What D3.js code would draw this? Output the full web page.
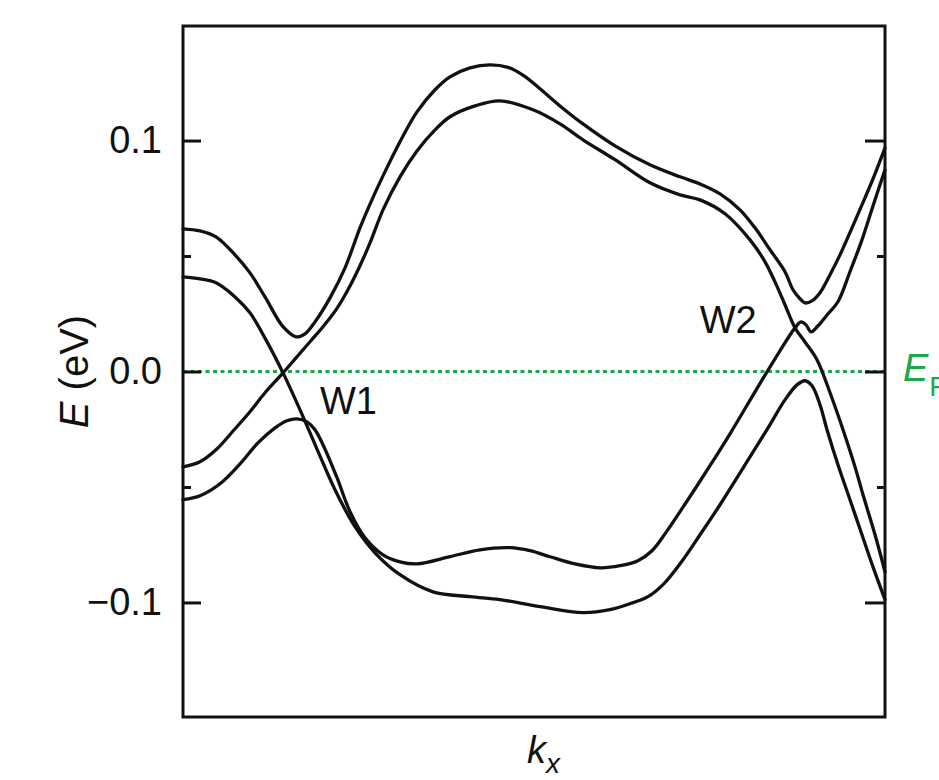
<!DOCTYPE html>
<html>
<head>
<meta charset="utf-8">
<script src="https://cdn.jsdelivr.net/npm/d3@7"></script>
<style>
  html, body { margin: 0; padding: 0; background: #fff; }
  svg { display: block; font-family: "Liberation Sans", Arial, sans-serif; }
</style>
</head>
<body>
<svg id="chart" width="939" height="780"></svg>
<script>
// ---- Data (k in arbitrary units 0..100, E in eV) ----
const bandU1 = [[0,0.0618],[2.42,0.0609],[4.70,0.0583],[7.41,0.0505],[9.54,0.0427],[11.68,0.0323],[14.25,0.0194],[16.10,0.0150],[17.38,0.0163],[18.80,0.0215],[20.94,0.0319],[23.08,0.0449],[25.21,0.0622],[26.64,0.0725],[28.49,0.0847],[30.91,0.0995],[33.33,0.1124],[35.90,0.1220],[38.03,0.1276],[40.88,0.1315],[43.73,0.1328],[46.30,0.1317],[48.58,0.1280],[50.85,0.1224],[53.70,0.1150],[56.98,0.1072],[61.54,0.0977],[66.52,0.0895],[70.80,0.0843],[73.65,0.0812],[76.50,0.0769],[79.34,0.0700],[81.48,0.0622],[83.62,0.0527],[85.75,0.0432],[86.89,0.0354],[87.89,0.0315],[88.60,0.0297],[89.60,0.0306],[90.74,0.0341],[92.17,0.0419],[93.59,0.0505],[95.30,0.0622],[97.15,0.0752],[98.58,0.0856],[100,0.0968]];
const bandU2 = [[0,-0.0413],[2.42,-0.0391],[4.70,-0.0339],[7.41,-0.0248],[9.54,-0.0174],[11.68,-0.0092],[14.25,-0.0006],[16.10,0.0059],[18.09,0.0129],[19.94,0.0194],[21.79,0.0267],[23.50,0.0354],[25.21,0.0458],[26.64,0.0557],[28.49,0.0700],[30.91,0.0843],[33.33,0.0955],[35.90,0.1046],[38.03,0.1103],[41.60,0.1150],[45.16,0.1172],[49.86,0.1133],[53.70,0.1072],[56.98,0.1003],[61.54,0.0917],[66.52,0.0817],[70.80,0.0765],[73.65,0.0743],[77.21,0.0683],[80.77,0.0570],[82.91,0.0475],[84.33,0.0388],[85.75,0.0289],[87.18,0.0189],[88.60,0.0128],[90.31,0.0051],[92.17,-0.0092],[94.02,-0.0252],[95.73,-0.0413],[96.87,-0.0534],[98.58,-0.0707],[100,-0.0867]];
const bandL1 = [[0,-0.0555],[2.42,-0.0538],[5.27,-0.0486],[8.12,-0.0400],[10.68,-0.0309],[13.11,-0.0244],[14.81,-0.0213],[16.24,-0.0205],[17.66,-0.0218],[18.80,-0.0252],[19.94,-0.0317],[21.94,-0.0460],[23.79,-0.0607],[25.93,-0.0720],[28.49,-0.0794],[30.91,-0.0824],[33.33,-0.0833],[38.03,-0.0802],[42.31,-0.0772],[46.58,-0.0763],[49.43,-0.0776],[52.28,-0.0802],[55.84,-0.0833],[59.40,-0.0850],[62.25,-0.0841],[64.81,-0.0819],[66.81,-0.0776],[68.66,-0.0703],[70.80,-0.0607],[75.07,-0.0408],[77.92,-0.0270],[81.48,-0.0088],[84.33,0.0055],[87.18,0.0189],[88.03,0.0215],[88.75,0.0202],[89.46,0.0172],[90.46,0.0198],[91.88,0.0250],[93.30,0.0302],[95.01,0.0432],[96.72,0.0570],[98.29,0.0717],[100,0.0873]];
const bandL2 = [[0,0.0410],[2.42,0.0401],[4.70,0.0384],[7.41,0.0323],[9.54,0.0254],[11.82,0.0137],[14.25,-0.0006],[16.67,-0.0166],[18.95,-0.0326],[21.65,-0.0512],[24.50,-0.0672],[27.35,-0.0785],[30.91,-0.0880],[35.61,-0.0954],[40.88,-0.0975],[45.16,-0.0988],[50.85,-0.1018],[56.98,-0.1044],[60.83,-0.1031],[64.10,-0.1001],[66.24,-0.0975],[68.38,-0.0923],[71.23,-0.0815],[73.65,-0.0707],[76.50,-0.0577],[80.06,-0.0404],[83.19,-0.0252],[85.75,-0.0123],[87.46,-0.0058],[88.60,-0.0040],[89.60,-0.0062],[90.74,-0.0144],[91.74,-0.0252],[93.30,-0.0404],[95.01,-0.0555],[96.72,-0.0707],[98.29,-0.0846],[100,-0.0988]];
const bands = [bandU1, bandU2, bandL1, bandL2];

const yMajorTicks = [-0.1, 0, 0.1];
const yMajorLabels = ["\u22120.1", "0.0", "0.1"];
const yMinorTicks = [-0.05, 0.05];
const fermiLevel = 0;
const pointLabels = [{text: "W1", k: 19.5, e: -0.0182}, {text: "W2", k: 73.6, e: 0.0168}];

// ---- Layout ----
const svg = d3.select("#chart");
const plotLeft = 183, plotRight = 885, plotTop = 26, plotBottom = 717;
const x = d3.scaleLinear().domain([0, 100]).range([plotLeft, plotRight]);
const y = d3.scaleLinear().domain([-0.1496, 0.1496]).range([plotBottom, plotTop]);
const ink = "#111";
const green = "#1fa84a";

// Fermi level (dotted)
svg.append("line")
  .attr("x1", plotLeft).attr("x2", plotRight)
  .attr("y1", y(fermiLevel)).attr("y2", y(fermiLevel))
  .attr("stroke", green).attr("stroke-width", 3)
  .attr("stroke-dasharray", "4,3.5");

// Bands
const line = d3.line()
  .x(d => x(d[0])).y(d => y(d[1]))
  .curve(d3.curveCatmullRom.alpha(0.5));
svg.append("g").selectAll("path").data(bands).join("path")
  .attr("d", line)
  .attr("fill", "none").attr("stroke", ink).attr("stroke-width", 3.3)
  .attr("stroke-linejoin", "round").attr("stroke-linecap", "round");

// Left axis (ticks inward)
const leftAxis = d3.axisLeft(y).tickValues(yMajorTicks)
  .tickFormat((d, i) => yMajorLabels[i])
  .tickSizeInner(-18).tickSizeOuter(0).tickPadding(21);
const gL = svg.append("g").attr("transform", `translate(${plotLeft},0)`).call(leftAxis);
gL.select(".domain").remove();
gL.selectAll("line").attr("stroke", ink).attr("stroke-width", 3);
gL.selectAll("text").attr("font-size", 38).attr("fill", ink)
  .attr("font-family", "'Liberation Sans', Arial, sans-serif");

const leftMinor = d3.axisLeft(y).tickValues(yMinorTicks).tickFormat("")
  .tickSizeInner(-8).tickSizeOuter(0);
const gLm = svg.append("g").attr("transform", `translate(${plotLeft},0)`).call(leftMinor);
gLm.select(".domain").remove();
gLm.selectAll("line").attr("stroke", ink).attr("stroke-width", 3);

// Right axis (ticks inward)
const rightAxis = d3.axisLeft(y).tickValues(yMajorTicks).tickFormat("")
  .tickSizeInner(20).tickSizeOuter(0);
const gR = svg.append("g").attr("transform", `translate(${plotRight},0)`).call(rightAxis);
gR.select(".domain").remove();
gR.selectAll("line").attr("stroke", ink).attr("stroke-width", 3);
const rightMinor = d3.axisLeft(y).tickValues(yMinorTicks).tickFormat("")
  .tickSizeInner(8).tickSizeOuter(0);
const gRm = svg.append("g").attr("transform", `translate(${plotRight},0)`).call(rightMinor);
gRm.select(".domain").remove();
gRm.selectAll("line").attr("stroke", ink).attr("stroke-width", 3);

// Frame
svg.append("rect")
  .attr("x", plotLeft).attr("y", plotTop)
  .attr("width", plotRight - plotLeft).attr("height", plotBottom - plotTop)
  .attr("fill", "none").attr("stroke", ink).attr("stroke-width", 3);

// Point labels
svg.append("g").selectAll("text").data(pointLabels).join("text")
  .attr("x", d => x(d.k)).attr("y", d => y(d.e))
  .attr("font-size", 38).attr("fill", ink)
  .text(d => d.text);

// E_F label (cut by the right edge, as in the reference)
const ef = svg.append("text")
  .attr("x", 903).attr("y", y(fermiLevel) + 9)
  .attr("fill", green).attr("font-size", 38);
ef.append("tspan").attr("font-style", "italic").text("E");
ef.append("tspan").attr("font-size", 28).attr("dy", 15).attr("dx", 1).text("F");

// Y axis title
const yt = svg.append("text")
  .attr("transform", `translate(88,${y(0)}) rotate(-90)`)
  .attr("text-anchor", "middle").attr("font-size", 40).attr("fill", ink);
yt.append("tspan").attr("font-style", "italic").text("E");
yt.append("tspan").text(" (eV)");

// X axis title
const xt = svg.append("text")
  .attr("x", 527).attr("y", 763)
  .attr("font-size", 38).attr("fill", ink).attr("font-style", "italic");
xt.append("tspan").text("k");
xt.append("tspan").attr("font-size", 28).attr("dy", 10).attr("dx", 0).text("x");
</script>
</body>
</html>
